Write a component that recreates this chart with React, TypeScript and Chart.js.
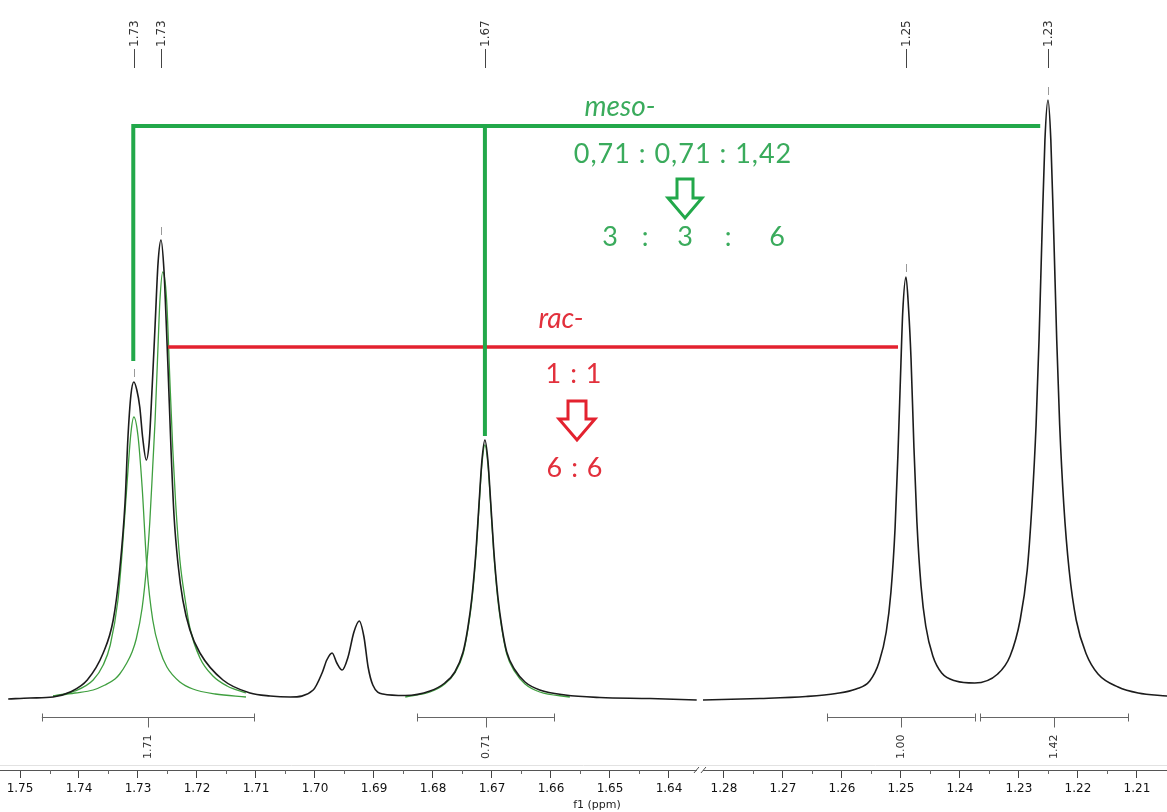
import React, { useEffect, useRef } from 'react';
import { Chart, registerables } from 'chart.js';

Chart.register(...registerables);

// ---- axis (broken ppm axis) ----
const AXIS_START_PPM = 1.75;
const BREAK_LEFT_PPM = 1.63475;
const BREAK_RIGHT_PPM = 1.28407;
const AXIS_MIN = -0.00339;
const AXIS_MAX = 0.19441;

const MAJOR_TICKS = [1.75, 1.74, 1.73, 1.72, 1.71, 1.70, 1.69, 1.68, 1.67, 1.66, 1.65, 1.64, 1.28, 1.27, 1.26, 1.25, 1.24, 1.23, 1.22, 1.21];
const MINOR_TICKS = [1.745, 1.735, 1.725, 1.715, 1.705, 1.695, 1.685, 1.675, 1.665, 1.655, 1.645, 1.275, 1.265, 1.255, 1.245, 1.235, 1.225, 1.215];

// ---- spectrum (black), intensities ----
const SPEC_LEFT_PPM = [1.7520, 1.7483, 1.7444, 1.7415, 1.7386, 1.7359, 1.7342, 1.7331, 1.7322, 1.7317, 1.7312, 1.7307, 1.7302, 1.7297, 1.7292, 1.7286, 1.7281, 1.7276, 1.7271, 1.7266, 1.7261, 1.7256, 1.7253, 1.7249, 1.7244, 1.7239, 1.7232, 1.7224, 1.7212, 1.7195, 1.7156, 1.7110, 1.7076, 1.7042, 1.7003, 1.6988, 1.6980, 1.6971, 1.6963, 1.6954, 1.6944, 1.6934, 1.6925, 1.6917, 1.6910, 1.6902, 1.6885, 1.6847, 1.6805, 1.6780, 1.6763, 1.6749, 1.6741, 1.6734, 1.6727, 1.6722, 1.6717, 1.6712, 1.6707, 1.6702, 1.6697, 1.6690, 1.6683, 1.6675, 1.6661, 1.6644, 1.6619, 1.6576, 1.6517, 1.6432, 1.6353];
const SPEC_LEFT_INT = [1, 2, 3, 8, 20, 47, 80, 130, 197, 263, 305, 318, 310, 293, 262, 240, 258, 313, 375, 437, 460, 430, 390, 330, 250, 185, 135, 100, 70, 47, 20, 7, 4, 3, 10, 27, 40, 47, 37, 30, 43, 68, 79, 63, 33, 15, 6, 4.5, 9, 17, 28, 48, 72, 103, 150, 196, 240, 260, 240, 196, 150, 103, 72, 48, 30, 18, 10, 5, 2.5, 1.5, 0];
const SPEC_RIGHT_PPM = [1.28356, 1.2739, 1.2661, 1.2610, 1.2576, 1.2553, 1.2537, 1.2525, 1.2517, 1.2510, 1.2505, 1.2500, 1.2497, 1.24915, 1.2487, 1.2483, 1.2478, 1.2473, 1.2466, 1.2458, 1.2446, 1.2431, 1.2407, 1.2375, 1.2336, 1.2315, 1.2298, 1.2286, 1.2278, 1.2271, 1.2266, 1.2261, 1.2256, 1.22508, 1.2246, 1.2241, 1.2236, 1.2231, 1.2224, 1.2215, 1.2203, 1.2186, 1.2166, 1.2132, 1.2098, 1.2049];
const SPEC_RIGHT_INT = [0, 1.5, 3.5, 6.5, 11, 19, 38, 68, 108, 172, 248, 338, 388, 423, 390, 342, 252, 178, 114, 74, 44, 27, 19, 17, 26, 44, 80, 130, 195, 275, 360, 465, 560, 600, 560, 465, 360, 275, 195, 130, 80, 46, 26, 13, 7, 4];

// ---- deconvolution fits (green) ----
const FIT_A_PPM = [1.7444, 1.7407, 1.7376, 1.7359, 1.7347, 1.7334, 1.7327, 1.7319, 1.7312, 1.7307, 1.7300, 1.7293, 1.7285, 1.7275, 1.7263, 1.7251, 1.7229, 1.7207, 1.7169, 1.7117];
const FIT_A_INT = [4, 9, 20, 35, 55, 100, 147, 213, 267, 283, 264, 213, 133, 80, 50, 33, 18, 11, 6, 3];
const FIT_B_PPM = [1.7444, 1.7407, 1.7376, 1.7356, 1.7339, 1.7331, 1.7319, 1.7310, 1.7303, 1.7293, 1.7285, 1.7280, 1.7275, 1.7271, 1.7266, 1.7263, 1.7258, 1.7254, 1.7251, 1.7246, 1.7241, 1.7236, 1.7229, 1.7220, 1.7212, 1.7195, 1.7173, 1.7149, 1.7117];
const FIT_B_INT = [4, 7, 10, 15, 21, 26, 37, 48, 61, 92, 137, 178, 234, 280, 355, 398, 428, 418, 395, 320, 250, 195, 140, 100, 72, 42, 24, 14, 7];
const FIT_C_PPM = [1.6847, 1.6805, 1.6780, 1.6763, 1.6749, 1.6741, 1.6734, 1.6727, 1.6722, 1.6717, 1.6712, 1.6707, 1.6702, 1.6697, 1.6690, 1.6683, 1.6675, 1.6661, 1.6644, 1.6619, 1.6568];
const FIT_C_INT = [3, 8, 16, 27, 46, 70, 100, 147, 193, 236, 255, 236, 193, 147, 100, 70, 46, 28, 16, 8, 3];

// ---- peak picking labels ----
const PEAK_PPM = [1.7307, 1.7261, 1.6712, 1.24915, 1.22508];
const PEAK_LABELS = ['1.73', '1.73', '1.67', '1.25', '1.23'];
const PEAK_INT = [318, 460, 260, 423, 600];

// ---- integrals ----
const INTEGRAL_FROM = [1.7463, 1.6827, 1.2625, 1.2366];
const INTEGRAL_TO = [1.7103, 1.6595, 1.2375, 1.2115];
const INTEGRAL_LABELS = ['1.71', '0.71', '1.00', '1.42'];

// ---- bracket annotations ----
const MESO_PPM = [1.7308, 1.6712, 1.2264];
const MESO_LEVEL = 574;
const MESO_DROP = [339, 264];
const RAC_PPM = [1.7249, 1.2505];
const RAC_LEVEL = 353;

const GREEN_LINE = '#22a84a';
const GREEN_TEXT = '#3aab5c';
const RED_LINE = '#e3222f';
const RED_TEXT = '#e2303c';
const FIT_GREEN = '#3f9f3f';

function toAxis(ppm: number): number {
  if (ppm >= BREAK_LEFT_PPM) return AXIS_START_PPM - ppm;
  return (AXIS_START_PPM - BREAK_LEFT_PPM) + (BREAK_RIGHT_PPM - ppm);
}
function fromAxis(u: number): number {
  const split = AXIS_START_PPM - BREAK_LEFT_PPM;
  if (u <= split) return AXIS_START_PPM - u;
  return BREAK_RIGHT_PPM - (u - split);
}
function pts(ppm: number[], ints: number[]) {
  return ppm.map((p, i) => ({ x: toAxis(p), y: ints[i] }));
}

const overlay = {
  id: 'nmrOverlay',
  afterDraw(chart: any) {
    const { ctx, chartArea } = chart;
    const xs = chart.scales.x;
    const ys = chart.scales.y;
    const px = (p: number) => xs.getPixelForValue(toAxis(p));
    const py = (v: number) => ys.getPixelForValue(v);
    const axisY = chartArea.bottom;
    ctx.save();

    // frame line (light)
    ctx.strokeStyle = '#e2e2e2';
    ctx.lineWidth = 1;
    ctx.beginPath();
    ctx.moveTo(0, axisY - 4.5);
    ctx.lineTo(chart.width, axisY - 4.5);
    ctx.stroke();

    // minor ticks
    ctx.strokeStyle = '#666';
    ctx.lineWidth = 1;
    MINOR_TICKS.forEach((p) => {
      const x = Math.round(px(p)) + 0.5;
      ctx.beginPath();
      ctx.moveTo(x, axisY);
      ctx.lineTo(x, axisY + 4);
      ctx.stroke();
    });

    // axis break marks
    const bx = xs.getPixelForValue(AXIS_START_PPM - BREAK_LEFT_PPM);
    ctx.fillStyle = '#fff';
    ctx.fillRect(bx - 3, axisY - 2, 6, 4);
    ctx.strokeStyle = '#555';
    ctx.beginPath();
    ctx.moveTo(bx - 6, axisY + 3);
    ctx.lineTo(bx - 1, axisY - 3);
    ctx.moveTo(bx + 1, axisY + 3);
    ctx.lineTo(bx + 6, axisY - 3);
    ctx.stroke();

    // axis title
    ctx.fillStyle = '#222';
    ctx.font = '11px "DejaVu Sans"';
    ctx.textAlign = 'center';
    ctx.textBaseline = 'middle';
    ctx.fillText('f1 (ppm)', 597, axisY + 35);

    // peak labels at top
    ctx.font = '12px "DejaVu Sans"';
    ctx.fillStyle = '#333';
    PEAK_PPM.forEach((p, i) => {
      const x = Math.round(px(p)) + 0.5;
      ctx.strokeStyle = '#444';
      ctx.beginPath();
      ctx.moveTo(x, 49);
      ctx.lineTo(x, 68);
      ctx.stroke();
      ctx.save();
      ctx.translate(x, 47);
      ctx.rotate(-Math.PI / 2);
      ctx.textAlign = 'left';
      ctx.textBaseline = 'middle';
      ctx.fillText(PEAK_LABELS[i], 0, 0);
      ctx.restore();
      // small apex mark
      const ay = py(PEAK_INT[i]);
      ctx.strokeStyle = '#999';
      ctx.beginPath();
      ctx.moveTo(x, ay - 13);
      ctx.lineTo(x, ay - 5);
      ctx.stroke();
    });

    // integrals
    const iy = axisY - 52.5;
    ctx.strokeStyle = '#666';
    ctx.fillStyle = '#333';
    ctx.font = '11px "DejaVu Sans"';
    INTEGRAL_FROM.forEach((p, i) => {
      const x1 = px(p);
      const x2 = px(INTEGRAL_TO[i]);
      const cx = Math.round((x1 + x2) / 2) + 0.5;
      ctx.beginPath();
      ctx.moveTo(x1, iy);
      ctx.lineTo(x2, iy);
      ctx.moveTo(Math.round(x1) + 0.5, iy - 4);
      ctx.lineTo(Math.round(x1) + 0.5, iy + 4);
      ctx.moveTo(Math.round(x2) + 0.5, iy - 4);
      ctx.lineTo(Math.round(x2) + 0.5, iy + 4);
      ctx.moveTo(cx, iy);
      ctx.lineTo(cx, iy + 10);
      ctx.stroke();
      ctx.save();
      ctx.translate(cx, axisY - 11);
      ctx.rotate(-Math.PI / 2);
      ctx.textAlign = 'left';
      ctx.textBaseline = 'middle';
      ctx.fillText(INTEGRAL_LABELS[i], 0, 0);
      ctx.restore();
    });

    // red rac- bracket
    ctx.lineCap = 'butt';
    ctx.strokeStyle = RED_LINE;
    ctx.lineWidth = 3.5;
    ctx.beginPath();
    ctx.moveTo(px(RAC_PPM[0]), py(RAC_LEVEL));
    ctx.lineTo(px(RAC_PPM[1]), py(RAC_LEVEL));
    ctx.stroke();

    // green meso- bracket
    ctx.strokeStyle = GREEN_LINE;
    ctx.lineWidth = 4;
    ctx.beginPath();
    ctx.moveTo(px(MESO_PPM[0]), py(MESO_LEVEL));
    ctx.lineTo(px(MESO_PPM[2]), py(MESO_LEVEL));
    ctx.moveTo(px(MESO_PPM[0]), py(MESO_LEVEL) - 2);
    ctx.lineTo(px(MESO_PPM[0]), py(MESO_DROP[0]));
    ctx.moveTo(px(MESO_PPM[1]), py(MESO_LEVEL) - 2);
    ctx.lineTo(px(MESO_PPM[1]), py(MESO_DROP[1]));
    ctx.stroke();

    // texts
    const fam = 'Lato, "Open Sans", sans-serif';
    ctx.textBaseline = 'alphabetic';
    ctx.textAlign = 'center';
    ctx.fillStyle = GREEN_TEXT;
    ctx.font = 'italic 28px ' + fam;
    ctx.fillText('meso-', 620, 116);
    ctx.font = '27px ' + fam;
    (ctx as any).letterSpacing = '1px';
    ctx.fillText('0,71 : 0,71 : 1,42', 683, 163);
    (ctx as any).letterSpacing = '0px';
    [['3', 610], [':', 645], ['3', 685], [':', 728], ['6', 777]].forEach(([t, x]) => {
      ctx.fillText(t as string, x as number, 246);
    });
    ctx.fillStyle = RED_TEXT;
    ctx.font = 'italic 28px ' + fam;
    ctx.fillText('rac-', 561, 328);
    ctx.font = '27px ' + fam;
    (ctx as any).letterSpacing = '1px';
    ctx.fillText('1 : 1', 574, 383);
    ctx.fillText('6 : 6', 575, 477);
    (ctx as any).letterSpacing = '0px';

    // hollow arrows
    const arrow = (color: string, l: number, r: number, top: number, neck: number, wl: number, wr: number, tipX: number, tipY: number) => {
      ctx.strokeStyle = color;
      ctx.lineWidth = 3;
      ctx.lineJoin = 'miter';
      ctx.beginPath();
      ctx.moveTo(l, top);
      ctx.lineTo(r, top);
      ctx.lineTo(r, neck);
      ctx.lineTo(wr, neck);
      ctx.lineTo(tipX, tipY);
      ctx.lineTo(wl, neck);
      ctx.lineTo(l, neck);
      ctx.closePath();
      ctx.stroke();
    };
    arrow(GREEN_LINE, 677, 693, 179, 198, 668, 702, 685, 218);
    arrow(RED_LINE, 568, 586, 401, 419, 559, 595, 577, 440);

    ctx.restore();
  },
};

export default function App() {
  const ref = useRef<HTMLCanvasElement | null>(null);
  useEffect(() => {
    document.body.style.margin = '0';
    const canvas = ref.current;
    if (!canvas) return;
    const spectrum = [
      ...pts(SPEC_LEFT_PPM, SPEC_LEFT_INT),
      { x: toAxis(BREAK_LEFT_PPM) + 0.0002, y: null as any },
      ...pts(SPEC_RIGHT_PPM, SPEC_RIGHT_INT),
    ];
    const chart = new Chart(canvas, {
      type: 'line',
      data: {
        datasets: [
          { label: 'spectrum', data: spectrum, borderColor: '#1c1c1c', borderWidth: 1.6, cubicInterpolationMode: 'monotone', spanGaps: false, pointRadius: 0 },
          { label: 'fit 1.731', data: pts(FIT_A_PPM, FIT_A_INT), borderColor: FIT_GREEN, borderWidth: 1.3, cubicInterpolationMode: 'monotone', pointRadius: 0 },
          { label: 'fit 1.726', data: pts(FIT_B_PPM, FIT_B_INT), borderColor: FIT_GREEN, borderWidth: 1.3, cubicInterpolationMode: 'monotone', pointRadius: 0 },
          { label: 'fit 1.671', data: pts(FIT_C_PPM, FIT_C_INT), borderColor: FIT_GREEN, borderWidth: 1.3, cubicInterpolationMode: 'monotone', pointRadius: 0 },
        ],
      },
      options: {
        animation: false,
        responsive: false,
        maintainAspectRatio: false,
        layout: { padding: 0 },
        plugins: { legend: { display: false }, tooltip: { enabled: false }, title: { display: false } },
        scales: {
          x: {
            type: 'linear',
            min: AXIS_MIN,
            max: AXIS_MAX,
            afterBuildTicks: (s: any) => {
              s.ticks = MAJOR_TICKS.map((p) => ({ value: toAxis(p) }));
            },
            afterFit: (s: any) => {
              s.height = 42;
            },
            ticks: {
              autoSkip: false,
              maxRotation: 0,
              minRotation: 0,
              padding: 4,
              color: '#111',
              font: { family: '"DejaVu Sans"', size: 12 },
              callback: (v: any) => fromAxis(Number(v)).toFixed(2),
            },
            grid: { drawOnChartArea: false, drawTicks: true, tickLength: 8, tickColor: '#444', color: '#444' },
            border: { display: true, color: '#555', width: 1 },
          },
          y: { display: false, min: -70, max: 700 },
        },
      },
      plugins: [overlay],
    });
    return () => chart.destroy();
  }, []);
  return <canvas ref={ref} width={1167} height={812} style={{ display: 'block' }} />;
}
